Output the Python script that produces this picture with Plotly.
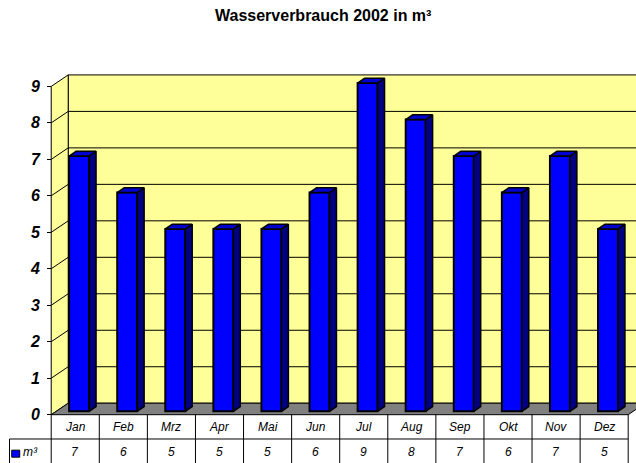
import plotly.graph_objects as go

# ---------------- data ----------------
months = ["Jan", "Feb", "Mrz", "Apr", "Mai", "Jun", "Jul", "Aug", "Sep", "Okt", "Nov", "Dez"]
values = [7, 6, 5, 5, 5, 6, 9, 8, 7, 6, 7, 5]
y_ticks = [0, 1, 2, 3, 4, 5, 6, 7, 8, 9]
series_name = "m³"
title_text = "Wasserverbrauch 2002 in m³"

# ---------------- geometry (pixels) ----------------
W, H = 636, 463
X0_PX = 51.0      # pixel position of category axis start
CAT_PX = 48.1     # pixels per category
Y0_PX = 415.0     # pixel position of value 0
UNIT_PX = 36.5    # pixels per value unit
X_MIN = -0.15
X_MAX = (W - X0_PX) / CAT_PX
Y_MIN = -0.2
Y_MAX = 9.45
ML = X0_PX + X_MIN * CAT_PX
MR = 0
MT = Y0_PX - Y_MAX * UNIT_PX
MB = H - (Y0_PX - Y_MIN * UNIT_PX)

DX = 17.0 / CAT_PX      # 3D depth offset in data units
DY = 11.5 / UNIT_PX
n = len(months)
VMAX = max(y_ticks)

BAR_OFF = 0.27
BAR_W = 0.415
D0, D1 = 0.29, 0.70     # bar depth range (fraction of full depth)

FONT = "Liberation Sans, Arial, sans-serif"
YELLOW = "#FFFF99"
FLOOR = "#808080"
BLUE = "#0000FF"
NAVY = "#000080"
TOPC = "#0000D0"


def xpaper_data(xd):
    return (xd - X_MIN) / (X_MAX - X_MIN)


def xpaper_px(px):
    return (px - ML) / (W - ML - MR)


def ypaper_px(py):
    return ((H - MB) - py) / (H - MT - MB)


# ---------------- bar faces ----------------
fcx = []
side_x, side_y, top_x, top_y = [], [], [], []
for i, v in enumerate(values):
    x0 = i + BAR_OFF + D0 * DX
    x1 = x0 + BAR_W
    b = D0 * DY
    t = b + v
    ddx = (D1 - D0) * DX
    ddy = (D1 - D0) * DY
    fcx.append((x0 + x1) / 2)
    side_x += [x1, x1 + ddx, x1 + ddx, x1, x1, None]
    side_y += [b, b + ddy, t + ddy, t, b, None]
    top_x += [x0, x1, x1 + ddx, x0 + ddx, x0, None]
    top_y += [t, t, t + ddy, t + ddy, t, None]

fig = go.Figure()
fig.add_trace(go.Scatter(x=side_x, y=side_y, mode="lines", fill="toself",
                         fillcolor=NAVY, line=dict(color="black", width=1.5),
                         hoverinfo="skip", showlegend=False))
fig.add_trace(go.Scatter(x=top_x, y=top_y, mode="lines", fill="toself",
                         fillcolor=TOPC, line=dict(color="black", width=1.5),
                         hoverinfo="skip", showlegend=False))
fig.add_trace(go.Bar(x=fcx, y=values, base=[D0 * DY] * n, width=BAR_W,
                     marker=dict(color=BLUE, line=dict(color="black", width=2)),
                     name=series_name, showlegend=False, hoverinfo="skip"))

# ---------------- walls / floor / gridlines ----------------
shapes = []
shapes.append(dict(type="rect", xref="x", yref="y", layer="below",
                   x0=DX, y0=DY, x1=n + DX + 1, y1=VMAX + DY,
                   fillcolor=YELLOW, line=dict(color="black", width=1)))
for v in y_ticks[1:-1]:
    shapes.append(dict(type="line", xref="x", yref="y", layer="below",
                       x0=DX, y0=v + DY, x1=n + DX + 1, y1=v + DY,
                       line=dict(color="black", width=1)))
shapes.append(dict(type="path", xref="x", yref="y", layer="below",
                   path=f"M 0,0 L {DX},{DY} L {DX},{VMAX + DY} L 0,{VMAX} Z",
                   fillcolor=YELLOW, line=dict(color="black", width=1)))
for v in y_ticks[1:-1]:
    shapes.append(dict(type="line", xref="x", yref="y", layer="below",
                       x0=0, y0=v, x1=DX, y1=v + DY,
                       line=dict(color="black", width=1)))
shapes.append(dict(type="path", xref="x", yref="y", layer="below",
                   path=f"M 0,0 L {n},0 L {n + DX},{DY} L {DX},{DY} Z",
                   fillcolor=FLOOR, line=dict(color="black", width=1)))

# ---------------- data table ----------------
ROW_SEP = 439.3
LEG_LEFT = 9.3
BOTTOM = 475
for i in range(n + 1):
    shapes.append(dict(type="line", xref="paper", yref="paper",
                       x0=xpaper_data(i), x1=xpaper_data(i),
                       y0=ypaper_px(Y0_PX), y1=ypaper_px(BOTTOM),
                       line=dict(color="black", width=1)))
shapes.append(dict(type="line", xref="paper", yref="paper",
                   x0=xpaper_px(LEG_LEFT), x1=xpaper_data(n),
                   y0=ypaper_px(ROW_SEP), y1=ypaper_px(ROW_SEP),
                   line=dict(color="black", width=1)))
shapes.append(dict(type="line", xref="paper", yref="paper",
                   x0=xpaper_px(LEG_LEFT), x1=xpaper_px(LEG_LEFT),
                   y0=ypaper_px(ROW_SEP), y1=ypaper_px(BOTTOM),
                   line=dict(color="black", width=1)))
# legend key
shapes.append(dict(type="rect", xref="paper", yref="paper",
                   x0=xpaper_px(11.5), x1=xpaper_px(19.5),
                   y0=ypaper_px(457.5), y1=ypaper_px(450.5),
                   fillcolor=BLUE, line=dict(color="black", width=1)))

annotations = []
for i, (m, v) in enumerate(zip(months, values)):
    annotations.append(dict(x=i + 0.5, xref="x", y=ypaper_px(427), yref="paper",
                            text=f"<i>{m}</i>", showarrow=False,
                            xanchor="center", yanchor="middle",
                            font=dict(family=FONT, size=12, color="black")))
    annotations.append(dict(x=i + 0.5, xref="x", y=ypaper_px(452), yref="paper",
                            text=f"<i>{v}</i>", showarrow=False,
                            xanchor="center", yanchor="middle",
                            font=dict(family=FONT, size=12, color="black")))
annotations.append(dict(x=xpaper_px(21), xref="paper", y=ypaper_px(452), yref="paper",
                        text=f"<i>{series_name}</i>", showarrow=False,
                        xanchor="left", yanchor="middle",
                        font=dict(family=FONT, size=12, color="black")))
annotations.append(dict(x=xpaper_px(322.5), xref="paper", y=ypaper_px(15.5), yref="paper",
                        text=f"<b>{title_text}</b>", showarrow=False,
                        xanchor="center", yanchor="middle",
                        font=dict(family=FONT, size=16, color="black")))

fig.update_layout(
    width=W, height=H,
    margin=dict(l=ML, r=MR, t=MT, b=MB, pad=0, autoexpand=False),
    paper_bgcolor="white", plot_bgcolor="white",
    template="none",
    showlegend=False,
    bargap=0,
    shapes=shapes,
    annotations=annotations,
    xaxis=dict(range=[X_MIN, X_MAX], visible=False, fixedrange=True),
    yaxis=dict(range=[Y_MIN, Y_MAX], anchor="free", position=xpaper_data(0),
               tickmode="array", tickvals=y_ticks, ticktext=[str(t) for t in y_ticks],
               ticks="outside", ticklen=4, tickwidth=1, tickcolor="black",
               showline=False, showgrid=False, zeroline=False, automargin=False,
               ticklabelstandoff=4,
               tickfont=dict(family=FONT, size=16, color="black", weight="bold", style="italic"),
               fixedrange=True),
)

fig.write_html("out.html", config={"staticPlot": True},
               post_script="document.body.style.margin='0';document.body.style.padding='0';document.body.style.overflow='hidden';")
